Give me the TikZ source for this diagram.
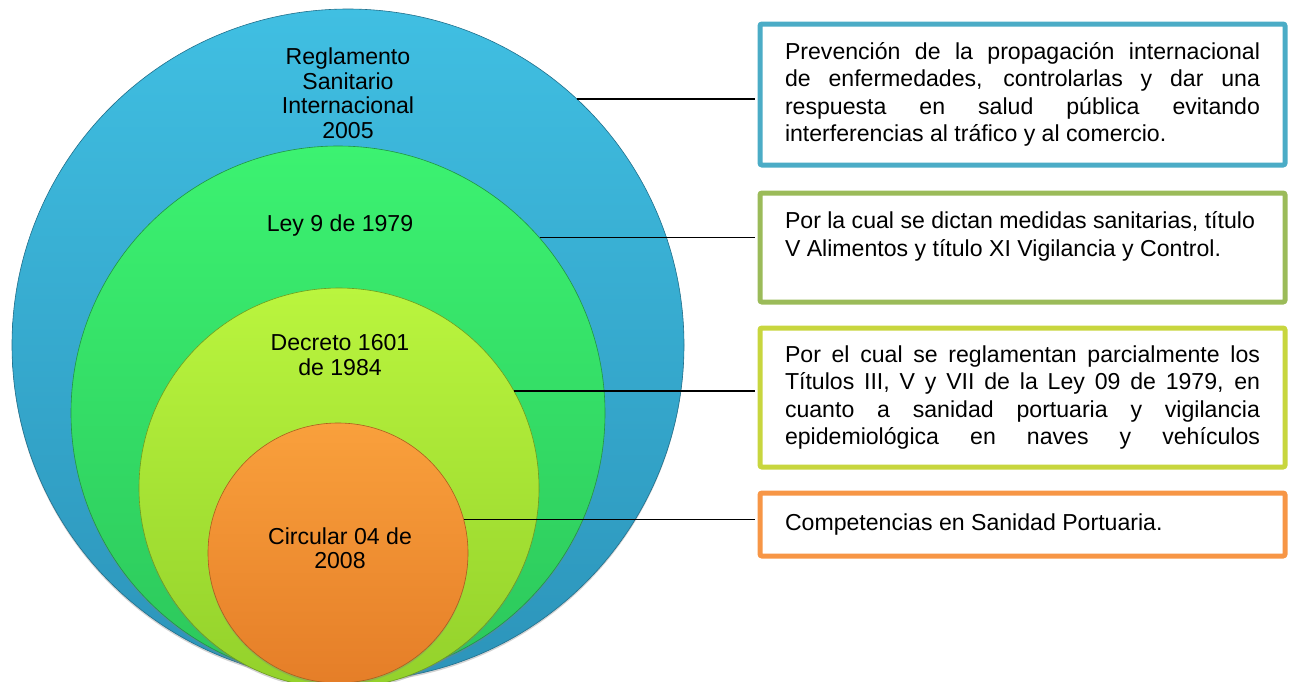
\documentclass[tikz,border=0pt]{standalone}
\usepackage{fontspec}
\setmainfont{Liberation Sans}
\usetikzlibrary{shadows}

\definecolor{azulA}{HTML}{40BFE2}
\definecolor{azulB}{HTML}{2C94BA}
\definecolor{verdeA}{HTML}{3CF271}
\definecolor{verdeB}{HTML}{2CC75B}
\definecolor{limaA}{HTML}{BAF53E}
\definecolor{limaB}{HTML}{93D12B}
\definecolor{naranjaA}{HTML}{F9A03C}
\definecolor{naranjaB}{HTML}{E57E28}
\definecolor{bordeAzul}{HTML}{4BACC6}
\definecolor{bordeVerde}{HTML}{9BBB59}
\definecolor{bordeLima}{HTML}{C8D63E}
\definecolor{bordeNaranja}{HTML}{F79646}

\tikzset{
  capa/.style n args={3}{circle, inner sep=0pt, minimum size=#1,
    top color=#2, bottom color=#3, draw=#3!75!black, line width=0.6pt,
    drop shadow={shadow xshift=0pt, shadow yshift=-2pt, opacity=0.35}},
  rotulo/.style={align=center, font=\fontsize{23.1}{24.5}\selectfont},
  caja/.style={draw=#1, line width=5pt, rounded corners=2pt, fill=white,
    text width=475pt, inner xsep=25pt, inner ysep=0pt, align=justify,
    font=\fontsize{23.1}{27.5}\selectfont},
  enlace/.style={line width=1.5pt, shorten >=2.5pt}
}

\begin{document}
\begin{tikzpicture}[x=1pt, y=-1pt]

\useasboundingbox (0,0) rectangle (1290,681);

\node[capa={672pt}{azulA}{azulB}]       (rsi)  at (348,345) {};
\node[capa={534pt}{verdeA}{verdeB}]     (ley)  at (338,413) {};
\node[capa={400pt}{limaA}{limaB}]       (dec)  at (339,488) {};
\node[capa={260pt}{naranjaA}{naranjaB}] (circ) at (338,553) {};

\node[rotulo] (rsitxt)  at (348,93)  {Reglamento\\Sanitario\\Internacional\\2005};
\node[rotulo] (leytxt)  at (340,226) {Ley 9 de 1979};
\node[rotulo] (dectxt)  at (340,355) {Decreto 1601\\de 1984};
\node[rotulo] (circtxt) at (340,548) {Circular 04 de\\2008};

\node[caja=bordeAzul, minimum height=141pt] (rsibox) at (1022.5,94.5)
  {Prevención de la propagación internacional\linebreak de enfermedades, controlarlas y dar una\linebreak respuesta en salud pública evitando\linebreak interferencias al tráfico y al comercio.};
\node[caja=bordeVerde, minimum height=109pt] (leybox) at (1022.5,247.5)
  {Por la cual se dictan medidas sanitarias, título\\V Alimentos y título XI Vigilancia y Control.\\\mbox{}};
\node[caja=bordeLima, minimum height=139pt] (decbox) at (1022.5,397.5)
  {\parfillskip=0pt Por el cual se reglamentan parcialmente los\linebreak Títulos III, V y VII de la Ley 09 de 1979, en\linebreak cuanto a sanidad portuaria y vigilancia\linebreak epidemiológica en naves y vehículos\par};
\node[caja=bordeNaranja, minimum height=63pt] (circbox) at (1022.5,524.5)
  {Competencias en Sanidad Portuaria.};

\draw[enlace] (rsi.47.1) -- (rsi.47.1 -| rsibox.west);
\draw[enlace] (ley.41.8) -- (ley.41.8 -| leybox.west);
\draw[enlace] (dec.29) -- (dec.29 -| decbox.west);
\draw[enlace] (circ.15.2) -- (circ.15.2 -| circbox.west);

\end{tikzpicture}
\end{document}
